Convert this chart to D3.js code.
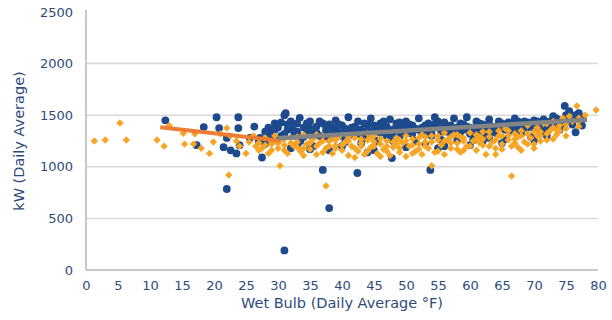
<!DOCTYPE html>
<html>
<head>
<meta charset="utf-8">
<script src="https://cdn.jsdelivr.net/npm/d3@7"></script>
<style>
  html, body { margin: 0; padding: 0; background: #fff; }
  svg { display: block; font-family: "DejaVu Sans", "Noto Sans", sans-serif; }
</style>
</head>
<body>
<svg id="chart" width="612" height="320"></svg>
<script>
// Daily kW vs. wet-bulb temperature, two operating periods plus trend lines
const xTicks = [0, 5, 10, 15, 20, 25, 30, 35, 40, 45, 50, 55, 60, 65, 70, 75, 80];
const yTicks = [0, 500, 1000, 1500, 2000, 2500];

// [wet bulb °F, kW]
const bluePoints = [
  [12.4,1450],[17.3,1210],[18.4,1385],[20.4,1480],[20.8,1375],[21.5,1190],[22,1280],[22,785],[22.6,1160],[23.8,1480],
  [23.8,1375],[23.5,1130],[24,1210],[25.6,1280],[26.3,1390],
  [27,1250],[27.5,1090],[28,1220],[28.5,1380],[29,1330],[29.5,1420],[30,1250],[30.5,1430],[31,190],[31,1500],
  [31.5,1360],[32,1440],[32,1180],[32.5,1300],[33,1420],[33.5,1250],[34,1380],[34.5,1330],[35,1440],[35.5,1200],
  [36,1390],[36.5,1300],[37,970],[37,1420],[37.5,1350],[38,600],[38,1270],[38.5,1380],[39,1450],[39.5,1330],
  [40,1400],[40.5,1240],[41,1480],[41.5,1380],[42.4,940],[42,1320],[42.5,1440],[43,1360],[43.5,1280],[44,1410],
  [44.5,1470],[45,1340],[45.5,1250],[46,1420],[46.5,1380],[47.8,1085],[47,1300],[47.5,1460],[48,1360],[48.5,1420],
  [49,1290],[49.5,1380],[50,1440],[50.5,1330],[51,1400],[51.5,1250],[52,1470],[52.5,1380],[53,1310],[53.5,1420],
  [53.8,970],[54,1350],[54.5,1480],[55,1390],[55.5,1260],[56,1430],[56.5,1340],[57,1400],[57.5,1470],[58,1300],
  [58.5,1420],[59,1360],[59.5,1480],[60,1380],[60.5,1260],[61,1440],[61.5,1350],[62,1410],[62.5,1300],[63,1460],
  [63.5,1390],[64,1330],[64.5,1440],[65,1380],[65.5,1270],[66,1430],[66.5,1350],[67,1470],[67.5,1400],[68,1320],
  [68.5,1440],[69,1380],[69.5,1290],[70,1450],[70.5,1400],[71,1340],[71.5,1460],[72,1420],[72.5,1380],[73,1490],
  [73.5,1440],[74,1360],[74.8,1590],[75,1500],[75.5,1540],[76.5,1335],[76.5,1470],[77,1520],[77.5,1400],
  [28,1340],[29,1290],[30,1380],[31,1320],[32,1390],[33,1340],[34,1290],[35,1370],[36,1330],[37,1280],
  [38,1410],[39,1360],[40,1300],[41,1340],[42,1390],[43,1310],[44,1350],[45,1400],[46,1330],[47,1390],
  [48,1310],[49,1430],[50,1360],[51,1320],[52,1360],[53,1400],[54,1300],[55,1440],[56,1360],[57,1330],
  [58,1380],[59,1410],[60,1320],[61,1390],[62,1350],[63,1410],[64,1380],[65,1420],[66,1390],[67,1360],
  [68,1410],[69,1430],[70,1370],[71,1410],[72,1360],[73,1400],[74,1450],[75,1430],[76,1410],[77,1460],
  [35,1170],[40,1200],[45,1160],[50,1190],[55,1180],[60,1210],[65,1230],[70,1260],[44,1140],[56,1200],
  [62,1250],[72,1300],
  [27.2,1280],[28.5,1280],[29.5,1360],[30.5,1300],[31.2,1520],[31.5,1410],[32.5,1350],[33.4,1475],[34.5,1420],[35.5,1310],
  [36.5,1440],[37.5,1390],[38.5,1320],[39.5,1410],[40.5,1370],[41.5,1310],[42.5,1360],[43.5,1420],[44.5,1300],[45.5,1380],
  [46.5,1440],[47.5,1350],[48.5,1390],[49.5,1330],[50.5,1410],[51.5,1370],[52.5,1320],[53.5,1360],[54.5,1410],[55.5,1340],
  [56.5,1390],[57.5,1360],[58.5,1340],[59.5,1390],[60.5,1350],[61.5,1420],[62.5,1390],[63.5,1350],[64.5,1400],[65.5,1360],
  [66.5,1410],[67.5,1440],[68.5,1380],[69.5,1410],[70.5,1440],[71.5,1380],[72.5,1440],[73.5,1470],[74.5,1420],[75.5,1460],
  [76.5,1500],[77.5,1480],[33,1210],[38,1160],[43,1230],[48,1250],[53,1220],[58,1260],[63,1280]
];

const orangePoints = [
  [1.3,1250],[3,1260],[5.3,1425],[6.3,1260],[11.1,1260],[12.2,1200],[13,1400],[15.2,1325],[15.4,1220],[16.8,1220],
  [17,1320],[18,1180],[19.3,1130],[19.9,1240],[21,1320],[22,1375],[22.3,920],[22.5,1300],[23.5,1250],[24,1200],
  [25,1130],[25.5,1240],[26.2,1300],[26.5,1200],
  [27,1230],[27.5,1180],[28,1280],[28.5,1130],[29,1220],[29.5,1300],[30.3,1010],[30,1180],
  [30.5,1260],[31,1210],[31.5,1130],[32,1280],[32.5,1200],[33,1240],[33.5,1150],[34,1310],[34.5,1220],[35,1170],
  [35.5,1270],[36,1120],[36.5,1230],[37,1300],[37.5,815],[37.5,1180],[38,1250],[38.5,1130],[39,1210],[39.5,1290],
  [40,1160],[40.5,1240],[41,1110],[41.5,1200],[42,1280],[42.5,1150],[43,1230],[43.5,1120],[44,1260],[44.5,1190],
  [45,1300],[45.5,1130],[46,1220],[46.5,1170],[47,1250],[47.5,1110],[48,1190],[48.5,1280],[49,1140],[49.5,1230],
  [50,1100],[50.5,1200],[51,1270],[51.5,1150],[52,1220],[52.5,1120],[53,1290],[53.5,1180],[54,1010],[54,1240],
  [54.5,1140],[55,1300],[55.5,1210],[56,1120],[56.5,1260],[57,1180],[57.5,1310],[58,1230],[58.5,1140],[59,1280],
  [59.5,1200],[60,1330],[60.5,1250],[61,1160],[61.5,1290],[62,1210],[62.5,1120],[63,1340],[63.5,1240],[64,1180],
  [64.5,1300],[65,1220],[65.5,1370],[66,1260],[66.5,910],[66.5,1200],[67,1320],[67.5,1190],[68,1350],[68.5,1240],
  [69,1400],[69.5,1280],[70,1220],[70.5,1380],[71,1300],[71.5,1420],[72,1260],[72.5,1350],[73,1440],[73.5,1310],
  [74,1400],[74.5,1470],[75,1370],[75.5,1490],[76.7,1590],[77,1440],[79.7,1550],
  [29,1240],[31,1270],[33,1190],[35,1230],[37,1250],[39,1180],[41,1250],[43,1200],[45,1240],[47,1200],
  [49,1260],[51,1210],[53,1240],[55,1260],[57,1230],[59,1250],[61,1270],[63,1290],[65,1300],[67,1270],
  [69,1320],[71,1340],[73,1380],[75,1410],[77,1470],[34,1110],[42,1090],[46,1100],[52,1170],[58,1170],
  [64,1120],[68,1160],[70,1180],[36,1310],[44,1320],[50,1300],[56,1330],[62,1340],[66,1350],[72,1420],
  [78,1500],
  [27,1160],[28,1210],[29,1160],[30,1230],[31,1160],[32,1230],[33,1290],[34,1180],[35,1290],
  [36,1200],[37,1140],[38,1200],[39,1260],[40,1210],[41,1290],[42,1180],[43,1270],[44,1150],[45,1200],
  [46,1270],[47,1150],[48,1240],[49,1180],[50,1250],[51,1130],[52,1280],[53,1200],[54,1300],[55,1150],
  [56,1250],[57,1290],[58,1310],[59,1160],[60,1200],[61,1310],[62,1270],[63,1200],[64,1260],[65,1170],
  [66,1300],[67,1230],[68,1300],[69,1220],[70,1340],[71,1250],[72,1320],[73,1270],[74,1350],[75,1300],
  [76,1440],[77,1390],[38.5,1290],[44.5,1280],[48.5,1220],[52.5,1310],[58.5,1290],[61.5,1230],[64.5,1350],[67.5,1290],
  [70.5,1300],[73.5,1360]
];

// Trend lines: cold-weather segment and warm-weather segment
const orangeTrend = [[11.6,1383],[30.3,1253]];
const grayTrend = [[30,1276],[78.3,1455]];

const svg = d3.select("#chart");
const margin = { left: 86, right: 14, top: 12, bottom: 50 };
const W = 612, H = 320;

const x = d3.scaleLinear().domain([0, 80]).range([margin.left, W - margin.right]);
const y = d3.scaleLinear().domain([0, 2500]).range([H - margin.bottom, margin.top]);

const textColor = "#2f4a7a";
const fmt = d3.format("d");

// Horizontal gridlines
svg.append("g")
  .selectAll("line")
  .data(yTicks.filter(d => d > 0 && d < 2500))
  .join("line")
  .attr("x1", x(0)).attr("x2", x(80))
  .attr("y1", d => y(d)).attr("y2", d => y(d))
  .attr("stroke", "#d9d9d9").attr("stroke-width", 1.5);

// Axis lines
svg.append("line")
  .attr("x1", x(0)).attr("x2", x(0))
  .attr("y1", y(2500) - 2).attr("y2", y(0))
  .attr("stroke", "#c8c8c8").attr("stroke-width", 2);
svg.append("line")
  .attr("x1", x(0)).attr("x2", x(80))
  .attr("y1", y(0)).attr("y2", y(0))
  .attr("stroke", "#c8c8c8").attr("stroke-width", 2);

// Y axis labels
const yAxis = d3.axisLeft(y).tickValues(yTicks).tickFormat(fmt).tickSize(0).tickPadding(13);
const gy = svg.append("g").attr("transform", `translate(${x(0)},0)`).call(yAxis);
gy.select(".domain").remove();
gy.selectAll("text").attr("fill", textColor).style("font-size", "13px").style("font-family", "'DejaVu Sans', sans-serif");

// X axis labels
const xAxis = d3.axisBottom(x).tickValues(xTicks).tickFormat(fmt).tickSize(0).tickPadding(11);
const gx = svg.append("g").attr("transform", `translate(0,${y(0)})`).call(xAxis);
gx.select(".domain").remove();
gx.selectAll("text").attr("fill", textColor).style("font-size", "13px").style("font-family", "'DejaVu Sans', sans-serif");

// Blue circles
svg.append("g")
  .selectAll("circle")
  .data(bluePoints)
  .join("circle")
  .attr("cx", d => x(d[0]))
  .attr("cy", d => y(d[1]))
  .attr("r", 3.9)
  .attr("fill", "#1d4a8c");

// Orange diamonds
const dia = 3.7;
svg.append("g")
  .selectAll("path")
  .data(orangePoints)
  .join("path")
  .attr("d", d => {
    const cx = x(d[0]), cy = y(d[1]);
    return `M${cx},${cy - dia}L${cx + dia},${cy}L${cx},${cy + dia}L${cx - dia},${cy}Z`;
  })
  .attr("fill", "#f7a525");

// Trend lines
const line = d3.line().x(d => x(d[0])).y(d => y(d[1]));
svg.append("path").datum(orangeTrend)
  .attr("d", line).attr("fill", "none")
  .attr("stroke", "#ed7d31").attr("stroke-width", 4);
svg.append("path").datum(grayTrend)
  .attr("d", line).attr("fill", "none")
  .attr("stroke", "#848484").attr("stroke-width", 4.5);

// Axis titles
svg.append("text")
  .attr("x", (x(0) + x(80)) / 2)
  .attr("y", 308)
  .attr("text-anchor", "middle")
  .attr("fill", textColor)
  .style("font-size", "14.5px")
  .text("Wet Bulb (Daily Average °F)");

svg.append("text")
  .attr("transform", `translate(24,${(y(0) + y(2500)) / 2}) rotate(-90)`)
  .attr("text-anchor", "middle")
  .attr("fill", textColor)
  .style("font-size", "14.5px")
  .text("kW (Daily Average)");
</script>
</body>
</html>
